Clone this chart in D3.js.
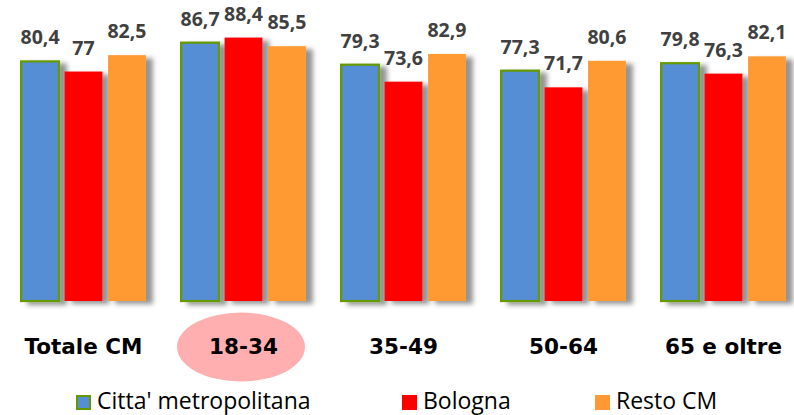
<!DOCTYPE html>
<html>
<head>
<meta charset="utf-8">
<script src="https://cdn.jsdelivr.net/npm/d3@7"></script>
<style>
  html, body { margin: 0; padding: 0; background: #fff; }
  svg { display: block; }
</style>
</head>
<body>
<div id="chart"></div>
<script>
// Chart data
const categories = ["Totale CM", "18-34", "35-49", "50-64", "65 e oltre"];
const seriesNames = ["Citta' metropolitana", "Bologna", "Resto CM"];
const cittaMetropolitana = [80.4, 86.7, 79.3, 77.3, 79.8];
const bologna = [77, 88.4, 73.6, 71.7, 76.3];
const restoCM = [82.5, 85.5, 82.9, 80.6, 82.1];
const highlighted = "18-34";

const width = 794;
const height = 415;

const seriesValues = [cittaMetropolitana, bologna, restoCM];
const fills = ["#558ED5", "#FF0000", "#FF9933"];
const strokes = ["#669900", "none", "none"];

// rows for the grouped bars
const rows = categories.map((c, i) => ({
  category: c,
  bars: seriesNames.map((s, j) => ({ series: s, idx: j, value: seriesValues[j][i] }))
}));

const it = d3.formatLocale({ decimal: ",", thousands: ".", grouping: [3], currency: ["", "€"] });
const fmt = it.format(".1~f");

const svg = d3.select("#chart").append("svg")
  .attr("width", width)
  .attr("height", height);

// soft shadow like the office chart
const defs = svg.append("defs");
const shadow = defs.append("filter")
  .attr("id", "shadow")
  .attr("x", "-20%").attr("y", "-10%")
  .attr("width", "160%").attr("height", "130%");
shadow.append("feDropShadow")
  .attr("dx", 7)
  .attr("dy", 3)
  .attr("stdDeviation", 2.4)
  .attr("flood-color", "#000")
  .attr("flood-opacity", 0.42);

// scales
const x0 = d3.scaleBand()
  .domain(categories)
  .range([3.5, 803.5])
  .paddingInner(0.22)
  .paddingOuter(0.11);

const x1 = d3.scaleBand()
  .domain(seriesNames)
  .range([0, x0.bandwidth()])
  .paddingInner(0.13)
  .paddingOuter(0);

const y = d3.scaleLinear()
  .domain([0, 100])
  .range([301, 3]);

// highlight ellipse behind the category label
svg.append("ellipse")
  .attr("cx", x0(highlighted) + x0.bandwidth() / 2 - 2.5)
  .attr("cy", 347)
  .attr("rx", 64)
  .attr("ry", 34.5)
  .attr("fill", "#FFAFAF");

// bars
const group = svg.append("g")
  .selectAll("g")
  .data(rows)
  .join("g")
    .attr("transform", d => `translate(${x0(d.category)},0)`);

group.selectAll("rect")
  .data(d => d.bars)
  .join("rect")
    .attr("x", d => x1(d.series))
    .attr("y", d => y(d.value))
    .attr("width", x1.bandwidth())
    .attr("height", d => y(0) - y(d.value))
    .attr("fill", d => fills[d.idx])
    .attr("stroke", d => strokes[d.idx])
    .attr("stroke-width", 2.2)
    .attr("filter", "url(#shadow)");

// value labels
group.selectAll("text")
  .data(d => d.bars)
  .join("text")
    .attr("x", d => x1(d.series) + x1.bandwidth() / 2)
    .attr("y", d => y(d.value) - 17)
    .attr("text-anchor", "middle")
    .attr("font-family", "'Open Sans', sans-serif")
    .attr("font-weight", "bold")
    .attr("font-size", "19.5px")
    .attr("fill", "#404040")
    .text(d => fmt(d.value));

// category labels
svg.append("g")
  .selectAll("text")
  .data(categories)
  .join("text")
    .attr("x", d => x0(d) + x0.bandwidth() / 2)
    .attr("y", 354)
    .attr("text-anchor", "middle")
    .attr("font-family", "'DejaVu Sans', Verdana, sans-serif")
    .attr("font-weight", "bold")
    .attr("font-size", "21.5px")
    .attr("fill", "#000")
    .text(d => d);

// legend
const legendX = [76, 402, 595];
const legend = svg.append("g")
  .selectAll("g")
  .data(seriesNames)
  .join("g")
    .attr("transform", (d, i) => `translate(${legendX[i]},395)`);

legend.append("rect")
  .attr("x", (d, i) => strokes[i] === "none" ? 0 : 1)
  .attr("y", (d, i) => strokes[i] === "none" ? 0 : 1)
  .attr("width", (d, i) => strokes[i] === "none" ? 15 : 13)
  .attr("height", (d, i) => strokes[i] === "none" ? 15 : 13)
  .attr("fill", (d, i) => fills[i])
  .attr("stroke", (d, i) => strokes[i])
  .attr("stroke-width", 2);

legend.append("text")
  .attr("x", 21)
  .attr("y", 14)
  .attr("font-family", "'Open Sans', sans-serif")
  .attr("font-size", "23px")
  .attr("fill", "#000")
  .text(d => d);
</script>
</body>
</html>
